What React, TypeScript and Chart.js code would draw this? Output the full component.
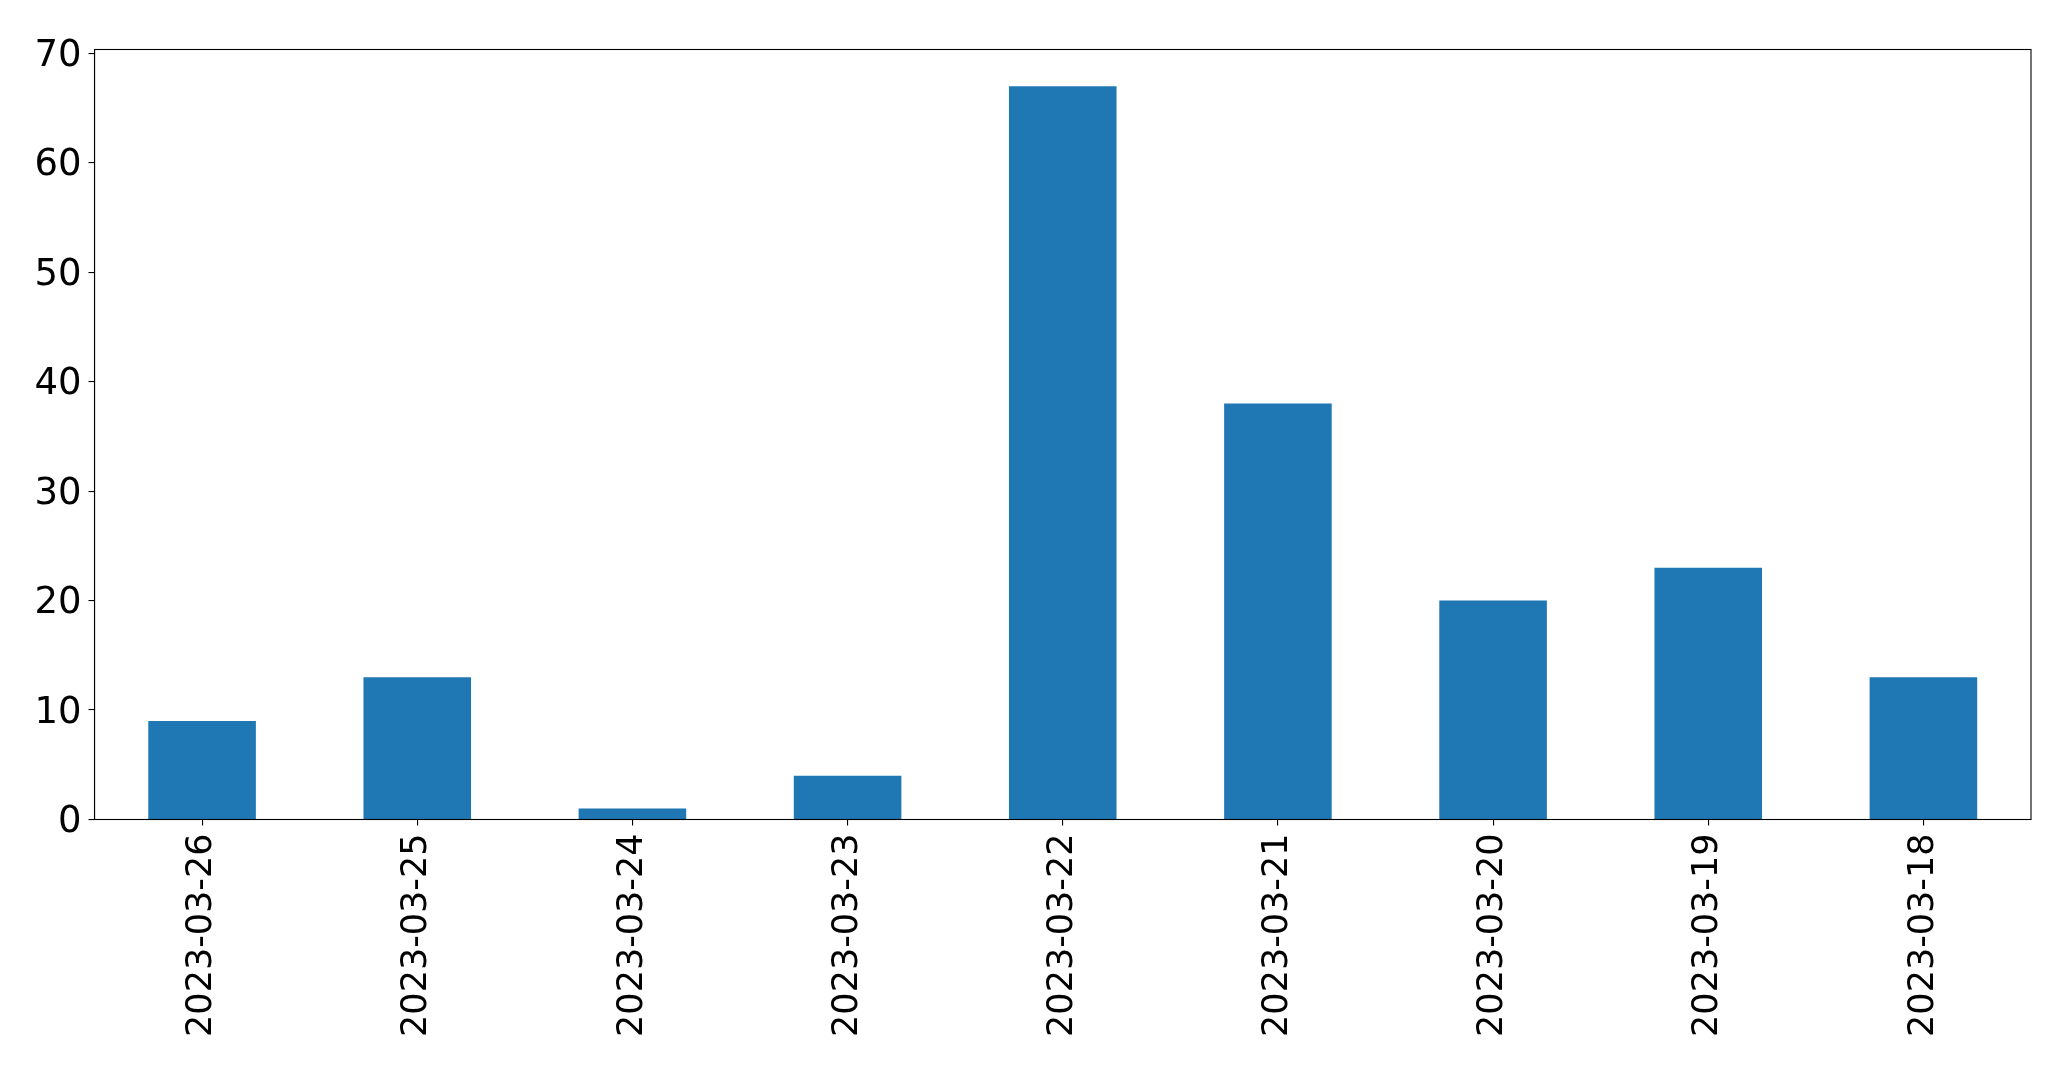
import React, { useEffect, useRef } from "react";
import { Chart, registerables } from "chart.js";

Chart.register(...registerables);

const categories = [
  "2023-03-26",
  "2023-03-25",
  "2023-03-24",
  "2023-03-23",
  "2023-03-22",
  "2023-03-21",
  "2023-03-20",
  "2023-03-19",
  "2023-03-18",
];
const counts = [9, 13, 1, 4, 67, 38, 20, 23, 13];
const yTickStep = 10;

const W = 2071;
const H = 1071;
const PLOT_LEFT = 94.5;
const PLOT_RIGHT = 2031;
const PLOT_TOP = 49.5;
const PLOT_BOTTOM = 819.5;

const frame = {
  id: "frame",
  afterDatasetsDraw(chart: any) {
    const { ctx, chartArea } = chart;
    ctx.save();
    ctx.strokeStyle = "#000";
    ctx.lineWidth = 1.1;
    ctx.strokeRect(chartArea.left, chartArea.top, chartArea.right - chartArea.left, chartArea.bottom - chartArea.top);
    ctx.restore();
  },
};

export default function App() {
  const ref = useRef<HTMLCanvasElement | null>(null);
  useEffect(() => {
    if (!ref.current) return;
    const maxVal = Math.max(...counts);
    const chart = new Chart(ref.current, {
      type: "bar",
      data: {
        labels: categories,
        datasets: [
          {
            data: counts,
            backgroundColor: "#1f77b4",
            borderWidth: 0,
            categoryPercentage: 1,
            barPercentage: 0.5,
          },
        ],
      },
      plugins: [frame],
      options: {
        animation: false,
        responsive: false,
        maintainAspectRatio: false,
        devicePixelRatio: 1,
        layout: { padding: { top: PLOT_TOP, right: W - PLOT_RIGHT, left: 0, bottom: 0 } },
        plugins: { legend: { display: false }, tooltip: { enabled: false } },
        scales: {
          x: {
            offset: true,
            grid: { display: true, offset: false, drawOnChartArea: false, drawTicks: true, tickLength: 6, color: "#000", lineWidth: 1.1 },
            border: { display: true, color: "#000", width: 1.1 },
            ticks: {
              minRotation: 90,
              maxRotation: 90,
              autoSkip: false,
              padding: 8,
              color: "#000",
              font: { family: "'DejaVu Sans'", size: 35 },
            },
            afterFit(scale: any) {
              scale.height = H - PLOT_BOTTOM;
            },
          },
          y: {
            min: 0,
            max: maxVal * 1.05,
            grid: { display: true, drawOnChartArea: false, drawTicks: true, tickLength: 6, color: "#000", lineWidth: 1.1 },
            border: { display: true, color: "#000", width: 1.1 },
            ticks: {
              stepSize: yTickStep,
              includeBounds: false,
              padding: 7,
              labelOffset: 3,
              color: "#000",
              font: { family: "'DejaVu Sans'", size: 37 },
            },
            afterFit(scale: any) {
              scale.width = PLOT_LEFT;
            },
          },
        },
      },
    });
    return () => chart.destroy();
  }, []);
  return (
    <div style={{ position: "absolute", left: 0, top: 0, width: W, height: H, background: "#fff" }}>
      <canvas ref={ref} width={W} height={H} style={{ width: W, height: H, display: "block" }} />
    </div>
  );
}
